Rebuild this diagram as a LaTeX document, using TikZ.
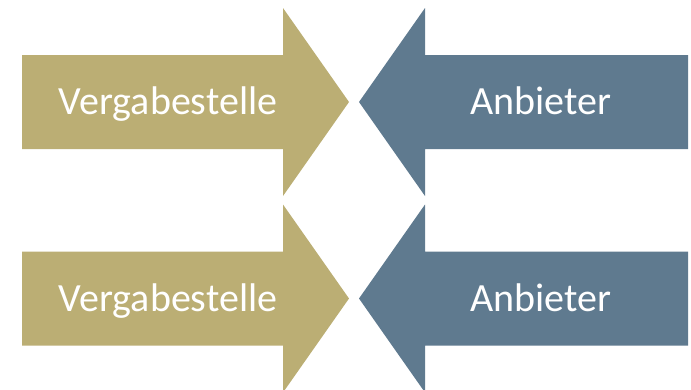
\documentclass[tikz,border=0pt]{standalone}
\usepackage{fontspec}
\setmainfont{Carlito}
\definecolor{vgold}{HTML}{BBAE74}
\definecolor{vblue}{HTML}{5F7A8F}
\tikzset{
  label text/.style={text=white, inner sep=0pt, anchor=base, font=\fontsize{40}{48}\selectfont},
}
\begin{document}
\begin{tikzpicture}[x=1pt,y=-1pt]
\useasboundingbox (0,0) rectangle (691,389);
\foreach \yc/\n in {102/1, 298.5/2} {
  % Vergabestelle arrow, pointing right
  \fill[vgold] (22,\yc-47) -- (283,\yc-47) -- (283,\yc-94) -- (349,\yc)
    -- (283,\yc+94) -- (283,\yc+47) -- (22,\yc+47) -- cycle;
  % Anbieter arrow, pointing left
  \fill[vblue] (688,\yc-47) -- (425,\yc-47) -- (425,\yc-94) -- (359,\yc)
    -- (425,\yc+94) -- (425,\yc+47) -- (688,\yc+47) -- cycle;
  \node[label text] (vergabe\n) at (168,\yc+12.5) {Vergabestelle};
  \node[label text] (anbieter\n) at (541,\yc+12.5) {Anbieter};
}
\end{tikzpicture}
\end{document}
